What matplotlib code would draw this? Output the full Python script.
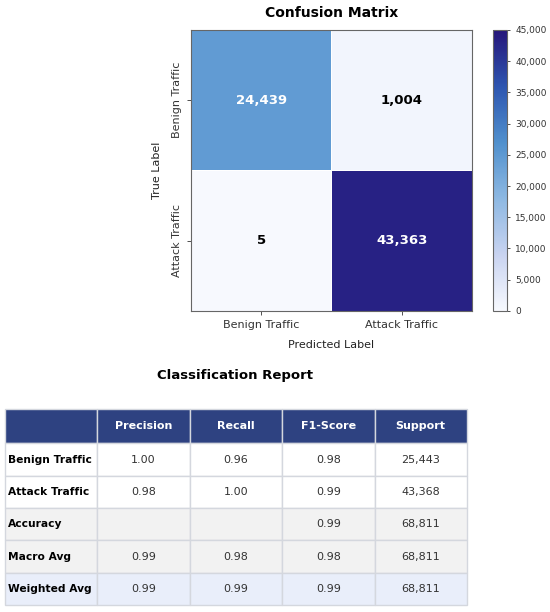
import matplotlib
matplotlib.use('Agg')
import matplotlib.pyplot as plt
import numpy as np
from matplotlib.colors import LinearSegmentedColormap

# confusion matrix data
class_names = ['Benign Traffic', 'Attack Traffic']
cm = np.array([[24439, 1004],
               [5, 43363]])

# classification report data
report_cols = ['', 'Precision', 'Recall', 'F1-Score', 'Support']
report_rows = ['Benign Traffic', 'Attack Traffic', 'Accuracy', 'Macro Avg', 'Weighted Avg']
precision = ['1.00', '0.98', '', '0.99', '0.99']
recall = ['0.96', '1.00', '', '0.98', '0.99']
f1_score = ['0.98', '0.99', '0.99', '0.98', '0.99']
support = ['25,443', '43,368', '68,811', '68,811', '68,811']

cmap = LinearSegmentedColormap.from_list(
    'cm_blues', ['#f7f9fe', '#c8d3f0', '#8db8e2', '#5090cd', '#2d55b0', '#26167a'])

fig = plt.figure(figsize=(5.5, 6.12), dpi=100)

# heatmap
ax = fig.add_axes([0.347, 0.492, 0.511, 0.459])
cax = fig.add_axes([0.896, 0.492, 0.026, 0.459])
mesh = ax.pcolormesh(cm, cmap=cmap, vmin=0, vmax=45000, edgecolors='white', linewidth=0.7)
ax.set_xlim(0, 2)
ax.set_ylim(2, 0)
ax.set_xticks([0.5, 1.5])
ax.set_yticks([0.5, 1.5])
ax.set_xticklabels(class_names, fontsize=8, color='#222222')
ax.set_yticklabels(class_names, fontsize=8, rotation=90, va='center', color='#222222')
ax.tick_params(length=3, width=0.6, colors='#333333')
for s in ax.spines.values():
    s.set_color('#666666')
    s.set_linewidth(0.8)
for i in range(2):
    for j in range(2):
        v = cm[i, j]
        ax.text(j + 0.5, i + 0.5, f'{v:,}', ha='center', va='center',
                fontsize=9.5, fontweight='bold',
                color='white' if v > 20000 else 'black')
ax.set_xlabel('Predicted Label', fontsize=8, labelpad=7, color='#222222')
ax.set_ylabel('True Label', fontsize=8, labelpad=7, color='#222222')
ax.set_title('Confusion Matrix', fontsize=10, fontweight='bold', pad=9)

cb = fig.colorbar(mesh, cax=cax, ticks=np.arange(0, 45001, 5000))
cb.ax.set_yticklabels([f'{t:,}' for t in range(0, 45001, 5000)], fontsize=6.5, color='#333333')
cb.ax.tick_params(length=2.5, width=0.6, colors='#333333')
cb.outline.set_edgecolor('#666666')
cb.outline.set_linewidth(0.8)

# classification report table
tax = fig.add_axes([0.009, 0.0114, 0.840, 0.320])
tax.axis('off')
cell_text = [[r, p, rc, f, s] for r, p, rc, f, s in zip(report_rows, precision, recall, f1_score, support)]
table = tax.table(cellText=cell_text, colLabels=report_cols, loc='center',
                  cellLoc='center', bbox=[0, 0, 1, 1])
table.auto_set_font_size(False)
table.set_fontsize(8)
row_colors = ['white', 'white', '#f2f2f2', '#f2f2f2', '#e9eefa']
for (r, c), cell in table.get_celld().items():
    cell.set_edgecolor('#d4d7de')
    cell.set_linewidth(1.0)
    if r == 0:
        cell.set_facecolor('#2e4281')
        cell.get_text().set_color('white')
        cell.get_text().set_fontweight('bold')
        cell.set_height(0.175)
    else:
        cell.set_facecolor(row_colors[r - 1])
        cell.get_text().set_color('#333333')
        cell.set_height(0.165)
        if c == 0:
            cell.get_text().set_fontweight('bold')
            cell.get_text().set_fontsize(7.7)
            cell.get_text().set_color('black')
            cell.get_text().set_ha('left')
            cell.PAD = 0.03
fig.text(0.428, 0.386, 'Classification Report', ha='center', va='center',
         fontsize=9.5, fontweight='bold')

fig.savefig('out.png', dpi=100)
